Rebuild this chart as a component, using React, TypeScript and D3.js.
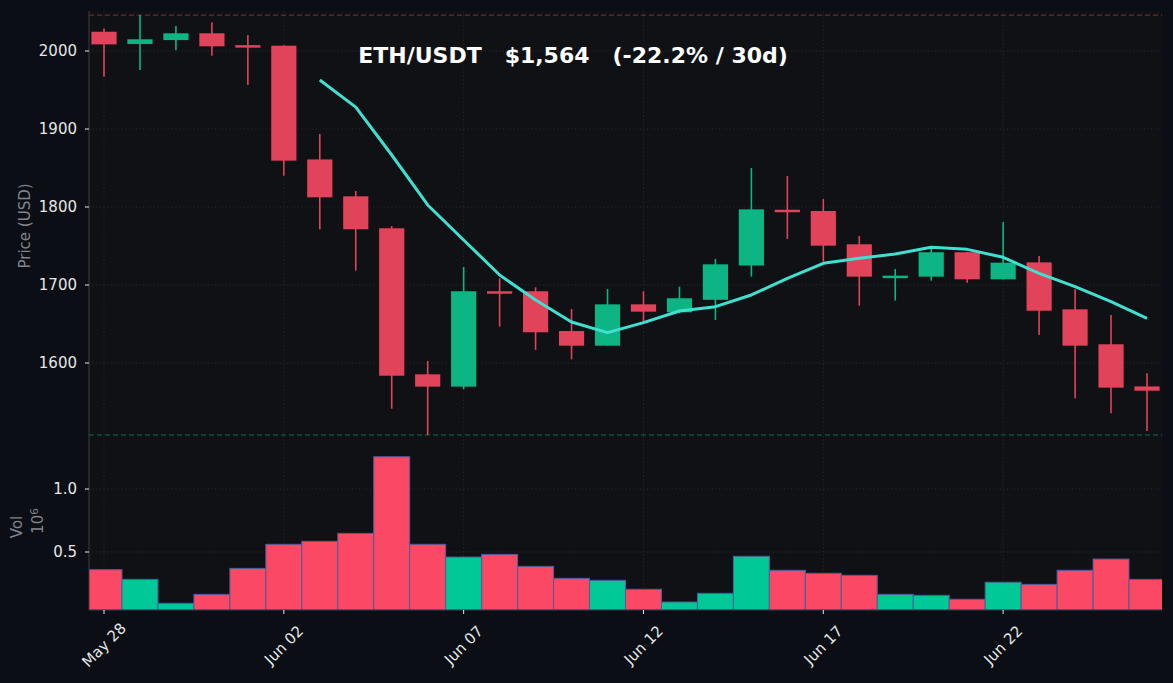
import { useEffect, useRef } from "react";
import * as d3 from "d3";

const dates = [
  "May 28", "May 29", "May 30", "May 31", "Jun 01", "Jun 02", "Jun 03", "Jun 04", "Jun 05", "Jun 06",
  "Jun 07", "Jun 08", "Jun 09", "Jun 10", "Jun 11", "Jun 12", "Jun 13", "Jun 14", "Jun 15", "Jun 16",
  "Jun 17", "Jun 18", "Jun 19", "Jun 20", "Jun 21", "Jun 22", "Jun 23", "Jun 24", "Jun 25", "Jun 26",
];

const opens = [
  2024.7, 2009, 2014, 2022.7, 2007.5, 2006.8, 1861, 1813.7, 1772.7, 1585.5,
  1569.7, 1692, 1692, 1641, 1622.2, 1675.2, 1665, 1681, 1725, 1796.5,
  1794.9, 1752.2, 1711, 1710.7, 1742, 1707.3, 1729, 1668.8, 1624, 1570,
];
const highs = [
  2029, 2046, 2032, 2037, 2020.5, 2007.5, 1893.6, 1820.5, 1775.6, 1602.6,
  1723, 1708.5, 1697, 1669.2, 1694.9, 1692, 1697.9, 1733.3, 1850, 1839.7,
  1810.3, 1762.8, 1720.5, 1747.8, 1742.5, 1780.8, 1737.2, 1694.4, 1661.5, 1586.8,
];
const lows = [
  1967, 1975.6, 2001, 1994, 1956.4, 1840, 1771.4, 1718.4, 1541.4, 1507.7,
  1566.3, 1646.6, 1616.7, 1604.7, 1622, 1653, 1663.7, 1655, 1710.7, 1759,
  1730, 1673.5, 1680, 1705.6, 1703, 1707, 1635.9, 1554.7, 1535.5, 1512.8,
];
const closes = [
  2008.5, 2015, 2022.7, 2006, 2006.5, 1859.4, 1812.4, 1771.4, 1583.7, 1569.7,
  1692, 1691, 1639.4, 1622.2, 1675.2, 1665.8, 1683, 1726.5, 1797, 1793.5,
  1750.4, 1710.7, 1712, 1742, 1707.3, 1728.6, 1667, 1622.2, 1568.4, 1564.5,
];
const volumes = [
  0.36, 0.283, 0.093, 0.164, 0.37, 0.561, 0.585, 0.648, 1.256, 0.561,
  0.46, 0.481, 0.386, 0.291, 0.275, 0.204, 0.103, 0.172, 0.466, 0.355,
  0.331, 0.315, 0.164, 0.156, 0.125, 0.26, 0.243, 0.355, 0.444, 0.283,
];
// 7-day moving average (starts at Jun 03)
const ma7 = [
  null, null, null, null, null, null, 1962.8, 1928, 1866.7, 1802.6,
  1757.7, 1712.8, 1680.8, 1652.6, 1638.9, 1651.7, 1666.7, 1672.2, 1687.2, 1708.5,
  1727.8, 1734.2, 1739.7, 1748.3, 1745.7, 1735.5, 1715, 1697.9, 1678.6, 1657.3,
];

const priceTicks = [1600, 1700, 1800, 1900, 2000];
const volTicks = [0.5, 1.0];
const xTickIdx = [0, 5, 10, 15, 20, 25];
const title = "ETH/USDT   $1,564   (-22.2% / 30d)";

const W = 1173;
const H = 683;
const C = {
  bg: "#0b0e14",
  panel: "#101115",
  grid: "#2b2e36",
  spine: "#3a3d46",
  tick: "#e6e6e6",
  label: "#80848c",
  up: "#0db585",
  down: "#e0435a",
  volUp: "#00c896",
  volDown: "#fb4864",
  volEdge: "#4c5e9c",
  ma: "#40e0d0",
};

export default function App() {
  const ref = useRef<SVGSVGElement | null>(null);

  useEffect(() => {
    document.body.style.margin = "0";
    document.body.style.background = C.bg;
    const svg = d3.select(ref.current);
    svg.selectAll("*").remove();

    const left = 89, right = 1162, top = 11, bottom = 610;
    const x = d3.scaleLinear().domain([0, dates.length - 1]).range([104, 1147]);
    const y = d3.scaleLinear().domain([1600, 2000]).range([363, 51]);
    const yv = d3.scaleLinear().domain([0, 1]).range([615, 489]);
    const step = x(1) - x(0);

    svg.append("rect").attr("width", W).attr("height", H).attr("fill", C.bg);
    svg.append("rect")
      .attr("x", left).attr("y", top)
      .attr("width", right - left).attr("height", bottom - top)
      .attr("fill", C.panel);

    svg.append("defs").append("clipPath").attr("id", "plot")
      .append("rect").attr("x", left).attr("y", top)
      .attr("width", right - left).attr("height", bottom - top);

    const grid = svg.append("g")
      .attr("stroke", C.grid).attr("stroke-width", 0.8).attr("stroke-dasharray", "1.2 2.4");
    xTickIdx.forEach((i) => {
      grid.append("line").attr("x1", x(i)).attr("x2", x(i)).attr("y1", top).attr("y2", bottom);
    });
    priceTicks.forEach((v) => {
      grid.append("line").attr("x1", left).attr("x2", right).attr("y1", y(v)).attr("y2", y(v));
    });
    volTicks.forEach((v) => {
      grid.append("line").attr("x1", left).attr("x2", right).attr("y1", yv(v)).attr("y2", yv(v));
    });

    const plot = svg.append("g").attr("clip-path", "url(#plot)");

    // max high / min low reference lines
    const hi = d3.max(highs)!;
    const lo = d3.min(lows)!;
    plot.append("line")
      .attr("x1", left).attr("x2", right).attr("y1", y(hi)).attr("y2", y(hi))
      .attr("stroke", C.down).attr("stroke-opacity", 0.55).attr("stroke-width", 1)
      .attr("stroke-dasharray", "5 3");
    plot.append("line")
      .attr("x1", left).attr("x2", right).attr("y1", y(lo)).attr("y2", y(lo))
      .attr("stroke", C.up).attr("stroke-opacity", 0.55).attr("stroke-width", 1)
      .attr("stroke-dasharray", "5 3");

    // volume
    volumes.forEach((v, i) => {
      const up = closes[i] >= opens[i];
      plot.append("rect")
        .attr("x", x(i) - step / 2).attr("width", step)
        .attr("y", yv(v)).attr("height", bottom - yv(v))
        .attr("fill", up ? C.volUp : C.volDown)
        .attr("stroke", C.volEdge).attr("stroke-width", 1);
    });

    // candles
    const bodyW = step * 0.7;
    dates.forEach((_, i) => {
      const up = closes[i] >= opens[i];
      const col = up ? C.up : C.down;
      plot.append("line")
        .attr("x1", x(i)).attr("x2", x(i))
        .attr("y1", y(highs[i])).attr("y2", y(lows[i]))
        .attr("stroke", col).attr("stroke-width", 1.6);
      const y0 = y(Math.max(opens[i], closes[i]));
      const y1 = y(Math.min(opens[i], closes[i]));
      plot.append("rect")
        .attr("x", x(i) - bodyW / 2).attr("width", bodyW)
        .attr("y", y0).attr("height", Math.max(2.5, y1 - y0))
        .attr("fill", col);
    });

    // moving average
    const line = d3.line<number | null>()
      .defined((d) => d != null)
      .x((_, i) => x(i))
      .y((d) => y(d as number));
    plot.append("path")
      .attr("d", line(ma7) ?? "")
      .attr("fill", "none")
      .attr("stroke", C.ma).attr("stroke-width", 3)
      .attr("stroke-linejoin", "round");

    // spines
    svg.append("line").attr("x1", left).attr("x2", left).attr("y1", top).attr("y2", bottom)
      .attr("stroke", C.spine).attr("stroke-width", 1);
    svg.append("line").attr("x1", left).attr("x2", right).attr("y1", bottom).attr("y2", bottom)
      .attr("stroke", C.spine).attr("stroke-width", 1);

    const font = "DejaVu Sans, sans-serif";
    const axes = svg.append("g").attr("font-family", font).attr("font-size", 15).attr("fill", C.tick);

    priceTicks.forEach((v) => {
      axes.append("line").attr("x1", left - 4).attr("x2", left).attr("y1", y(v)).attr("y2", y(v))
        .attr("stroke", C.tick).attr("stroke-width", 1);
      axes.append("text").attr("x", left - 12).attr("y", y(v)).attr("dy", "0.35em")
        .attr("text-anchor", "end").text(String(v));
    });
    volTicks.forEach((v) => {
      axes.append("line").attr("x1", left - 4).attr("x2", left).attr("y1", yv(v)).attr("y2", yv(v))
        .attr("stroke", C.tick).attr("stroke-width", 1);
      axes.append("text").attr("x", left - 12).attr("y", yv(v)).attr("dy", "0.35em")
        .attr("text-anchor", "end").text(v.toFixed(1));
    });
    xTickIdx.forEach((i) => {
      axes.append("line").attr("x1", x(i)).attr("x2", x(i)).attr("y1", bottom).attr("y2", bottom + 4)
        .attr("stroke", C.tick).attr("stroke-width", 1);
      axes.append("text")
        .attr("transform", `translate(${x(i)},645) rotate(-45)`)
        .attr("text-anchor", "middle").attr("dy", "0.35em")
        .text(dates[i]);
    });

    const labels = svg.append("g").attr("font-family", font).attr("font-size", 15).attr("fill", C.label);
    labels.append("text")
      .attr("transform", "translate(25,226) rotate(-90)")
      .attr("text-anchor", "middle").attr("dy", "0.35em")
      .text("Price (USD)");
    labels.append("text")
      .attr("transform", "translate(17,527) rotate(-90)")
      .attr("text-anchor", "middle").attr("dy", "0.35em")
      .text("Vol");
    const exp = labels.append("text")
      .attr("transform", "translate(38,521) rotate(-90)")
      .attr("text-anchor", "middle").attr("dy", "0.35em");
    exp.append("tspan").text("10");
    exp.append("tspan").attr("font-size", 10.5).attr("dy", "-0.5em").text("6");

    svg.append("text")
      .attr("x", 573).attr("y", 63)
      .attr("text-anchor", "middle")
      .attr("font-family", font).attr("font-size", 22).attr("font-weight", "bold")
      .attr("fill", "#ffffff")
      .attr("xml:space", "preserve")
      .style("white-space", "pre")
      .text(title);
  }, []);

  return <svg ref={ref} width={W} height={H} style={{ display: "block" }} />;
}
